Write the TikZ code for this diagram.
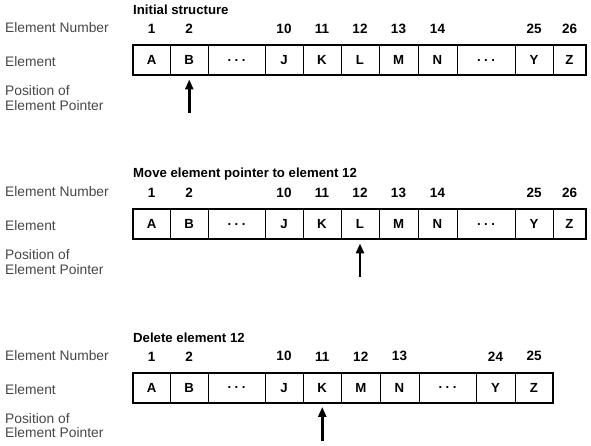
\documentclass[tikz,border=0pt]{standalone}
\usepackage{fontspec}
\setmainfont{Liberation Sans}
\usetikzlibrary{arrows.meta}
\newcommand\dotsym{.\hspace{3.5pt}.\hspace{3.5pt}.}
\tikzset{
  cellbox/.style={draw, line width=0.9pt, inner sep=0pt, minimum height=29.3pt, font=\bfseries\fontsize{13.2}{13.2}\selectfont},
  numlbl/.style={inner sep=0pt, font=\bfseries\fontsize{13.5}{13.5}\selectfont},
  sidelbl/.style={anchor=west, inner sep=0pt, align=left, text=black!72, font=\fontsize{13.8}{14.5}\selectfont},
  titlelbl/.style={anchor=west, inner sep=0pt, font=\bfseries\fontsize{13.2}{13.2}\selectfont},
  outline/.style={draw, line width=2pt},
  ptr/.style={-{Triangle[length=10pt,width=8pt]}, line width=2.8pt, shorten >=4pt},
}
\newcommand\elemrow[6]{%
  \begin{scope}[shift={(0,#2)}]
    \node[titlelbl] (#1title) at (133,10) {#3};
    \node[sidelbl] (#1lnum) at (5,28) {Element Number};
    \node[sidelbl] (#1lel) at (5,62) {Element};
    \node[sidelbl] (#1lpos) at (5,98) {Position of\\Element Pointer};
    \foreach \nm/\l/\r/\t in {#4}
      \node[cellbox, minimum width=\r pt-\l pt] (#1\nm) at ({(\l+\r)/2},60.35) {\t};
    \draw[outline] (#1A.north west) rectangle (#1Z.south east);
    \foreach \nm/\v in {#5}
      \node[numlbl, above=11.5pt] (#1n\nm) at (#1\nm.north) {\v};
    \coordinate (#1tail) at (#1#6.center |- 0,113);
    \draw[ptr] (#1tail) -- (#1#6.south);
  \end{scope}}
\begin{document}
\begin{tikzpicture}[x=1pt, y=-1pt]
  \useasboundingbox (0,0) rectangle (591,446);
  \elemrow{s1}{0}{Initial structure}
    {A/133/170.5/A, B/170.5/208/B, d1/208/265/\dotsym, J/265/303/J, K/303/341/K, L/341/379/L, M/379/418/M, N/418/457/N, d2/457/515/\dotsym, Y/515/553/Y, Z/553/586/Z}
    {A/1, B/2, J/10, K/11, L/12, M/13, N/14, Y/25, Z/26}{B}
  \elemrow{s2}{164}{Move element pointer to element 12}
    {A/133/170.5/A, B/170.5/208/B, d1/208/265/\dotsym, J/265/303/J, K/303/341/K, L/341/379/L, M/379/418/M, N/418/457/N, d2/457/515/\dotsym, Y/515/553/Y, Z/553/586/Z}
    {A/1, B/2, J/10, K/11, L/12, M/13, N/14, Y/25, Z/26}{L}
  \elemrow{s3}{327.5}{Delete element 12}
    {A/133/170.5/A, B/170.5/208/B, d1/208/265/\dotsym, J/265/303/J, K/303/341.5/K, M/341.5/380/M, N/380/419/N, d2/419/476/\dotsym, Y/476/515/Y, Z/515/553/Z}
    {A/1, B/2, J/10, K/11, M/12, N/13, Y/24, Z/25}{K}
\end{tikzpicture}
\end{document}
